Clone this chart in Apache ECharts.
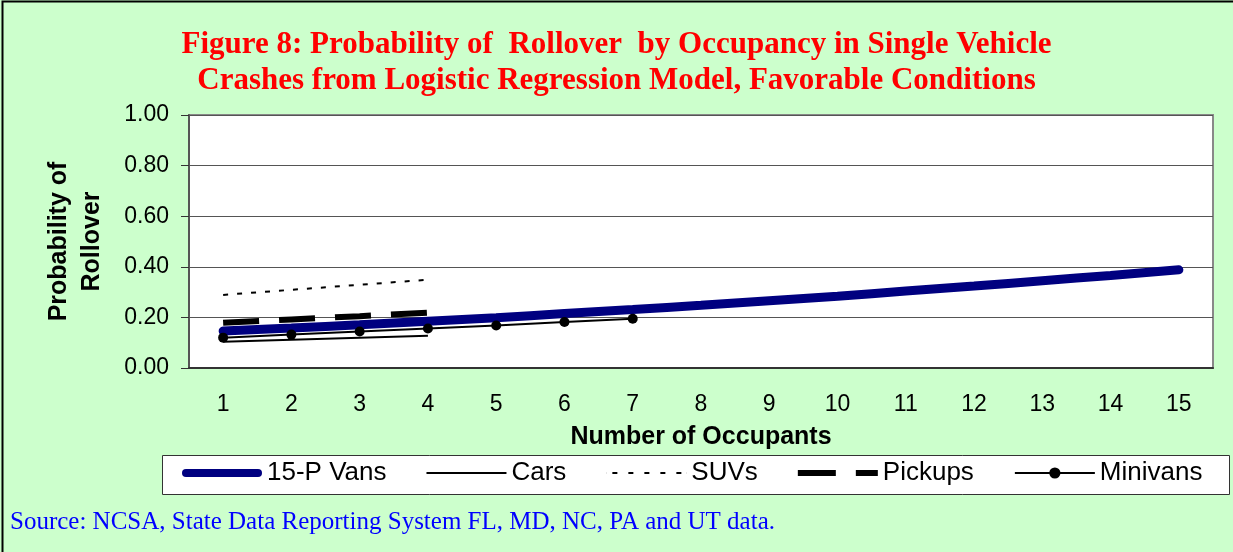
<!DOCTYPE html>
<html>
<head>
<meta charset="utf-8">
<script src="https://cdn.jsdelivr.net/npm/echarts@6/dist/echarts.min.js"></script>
<style>
  html, body { margin: 0; padding: 0; background: #ccffcc; }
  #chart { width: 1233px; height: 552px; }
</style>
</head>
<body>
<div id="chart"></div>
<script>
  // data
  const occupants = ['1', '2', '3', '4', '5', '6', '7', '8', '9', '10', '11', '12', '13', '14', '15']
  const vans15p = [0.146, 0.158, 0.171, 0.185, 0.199, 0.215, 0.231, 0.248, 0.266, 0.284, 0.304, 0.324, 0.345, 0.366, 0.388]
  const cars = [0.104, 0.112, 0.120, 0.127]
  const suvs = [0.289, 0.309, 0.329, 0.349]
  const pickups = [0.179, 0.192, 0.205, 0.219]
  const minivans = [0.120, 0.132, 0.144, 0.156, 0.168, 0.182, 0.195]
  const yTicks = [0, 0.2, 0.4, 0.6, 0.8, 1.0]

  const sans = 'Liberation Sans'
  const serif = 'Liberation Serif'

  // legend samples (filled shapes, 80 px wide)
  const iconVans = 'path://M4,0 H76 A4,4 0 0 1 76,8 H4 A4,4 0 0 1 4,0 Z'
  const iconCars = 'path://M0,0 H80 V2 H0 Z'
  const iconSuvs = 'path://M6,0 h5 v2 h-5 Z M22,0 h5 v2 h-5 Z M38,0 h5 v2 h-5 Z M54,0 h5 v2 h-5 Z M70,0 h5 v2 h-5 Z M0,0 h0.1 v2 h-0.1 Z M79.9,0 h0.1 v2 h-0.1 Z'
  const iconPickups = 'path://M0,0 H38 V6 H0 Z M58,0 H80 V6 H58 Z'

  const chart = echarts.init(document.getElementById('chart'))

  const option = {
    backgroundColor: '#ccffcc',
    animation: false,
    title: {
      text: 'Figure 8: Probability of  Rollover  by Occupancy in Single Vehicle\nCrashes from Logistic Regression Model, Favorable Conditions',
      left: 'center',
      top: 22,
      textStyle: {
        color: '#ff0000',
        fontFamily: serif,
        fontWeight: 'bold',
        fontSize: 31,
        lineHeight: 36
      }
    },
    graphic: [
      {
        type: 'rect',
        shape: { x: 2.5, y: 1.5, width: 1240, height: 560 },
        style: { fill: 'none', stroke: '#000', lineWidth: 2 },
        silent: true
      },
      {
        type: 'rect',
        shape: { x: 162.5, y: 455.5, width: 1067, height: 39 },
        style: { fill: '#fff', stroke: '#333', lineWidth: 1 },
        z: -1,
        silent: true
      },
      {
        type: 'text',
        left: 10,
        top: 510,
        style: {
          text: 'Source: NCSA, State Data Reporting System FL, MD, NC, PA and UT data.',
          fill: '#0000ff',
          font: '25px "Liberation Serif"'
        }
      }
    ],
    legend: {
      left: 182,
      top: 460,
      padding: 0,
      itemWidth: 80,
      itemHeight: 14,
      itemGap: 40,
      itemStyle: { borderWidth: 0 },
      textStyle: { fontFamily: sans, fontSize: 26, color: '#000' },
      data: [
        { name: '15-P Vans', icon: iconVans },
        { name: 'Cars', icon: iconCars },
        { name: 'SUVs', icon: iconSuvs },
        { name: 'Pickups', icon: iconPickups },
        { name: 'Minivans' }
      ]
    },
    grid: {
      left: 189,
      right: 20,
      top: 115,
      bottom: 184,
      show: true,
      backgroundColor: '#fff',
      borderColor: '#888',
      borderWidth: 2
    },
    xAxis: {
      type: 'category',
      data: occupants,
      boundaryGap: true,
      name: 'Number of Occupants',
      nameLocation: 'middle',
      nameGap: 57,
      nameTextStyle: { fontFamily: sans, fontSize: 25, fontWeight: 'bold', color: '#000' },
      axisLine: { lineStyle: { color: '#333', width: 2 } },
      axisTick: { length: 7, lineStyle: { color: '#333' } },
      axisLabel: { fontFamily: sans, fontSize: 23, color: '#000', margin: 25 }
    },
    yAxis: {
      type: 'value',
      min: yTicks[0],
      max: yTicks[yTicks.length - 1],
      interval: 0.2,
      name: 'Probability of\nRollover',
      nameLocation: 'middle',
      nameGap: 80,
      nameTextStyle: { fontFamily: sans, fontSize: 25, fontWeight: 'bold', color: '#000', lineHeight: 33 },
      axisLine: { show: true, lineStyle: { color: '#555', width: 2 } },
      axisTick: { show: true, length: 8, lineStyle: { color: '#333' } },
      axisLabel: {
        fontFamily: sans, fontSize: 23, color: '#000', margin: 20,
        formatter: v => v.toFixed(2)
      },
      splitLine: { lineStyle: { color: '#555', width: 1 } }
    },
    series: [
      {
        name: '15-P Vans',
        type: 'line',
        data: vans15p,
        symbol: 'none',
        smooth: true,
        z: 3,
        itemStyle: { color: '#000080' },
        lineStyle: { color: '#000080', width: 9, cap: 'round' }
      },
      {
        name: 'Cars',
        type: 'line',
        data: cars,
        symbol: 'none',
        itemStyle: { color: '#000' },
        lineStyle: { color: '#000', width: 2 }
      },
      {
        name: 'SUVs',
        type: 'line',
        data: suvs,
        symbol: 'none',
        itemStyle: { color: '#000' },
        lineStyle: { color: '#000', width: 2, type: [5, 9] }
      },
      {
        name: 'Pickups',
        type: 'line',
        data: pickups,
        symbol: 'none',
        itemStyle: { color: '#000' },
        lineStyle: { color: '#000', width: 6, type: [36, 20] }
      },
      {
        name: 'Minivans',
        type: 'line',
        data: minivans,
        symbol: 'circle',
        symbolSize: 10,
        z: 4,
        itemStyle: { color: '#000' },
        lineStyle: { color: '#000', width: 2 }
      }
    ]
  }

  chart.setOption(option)
</script>
</body>
</html>
